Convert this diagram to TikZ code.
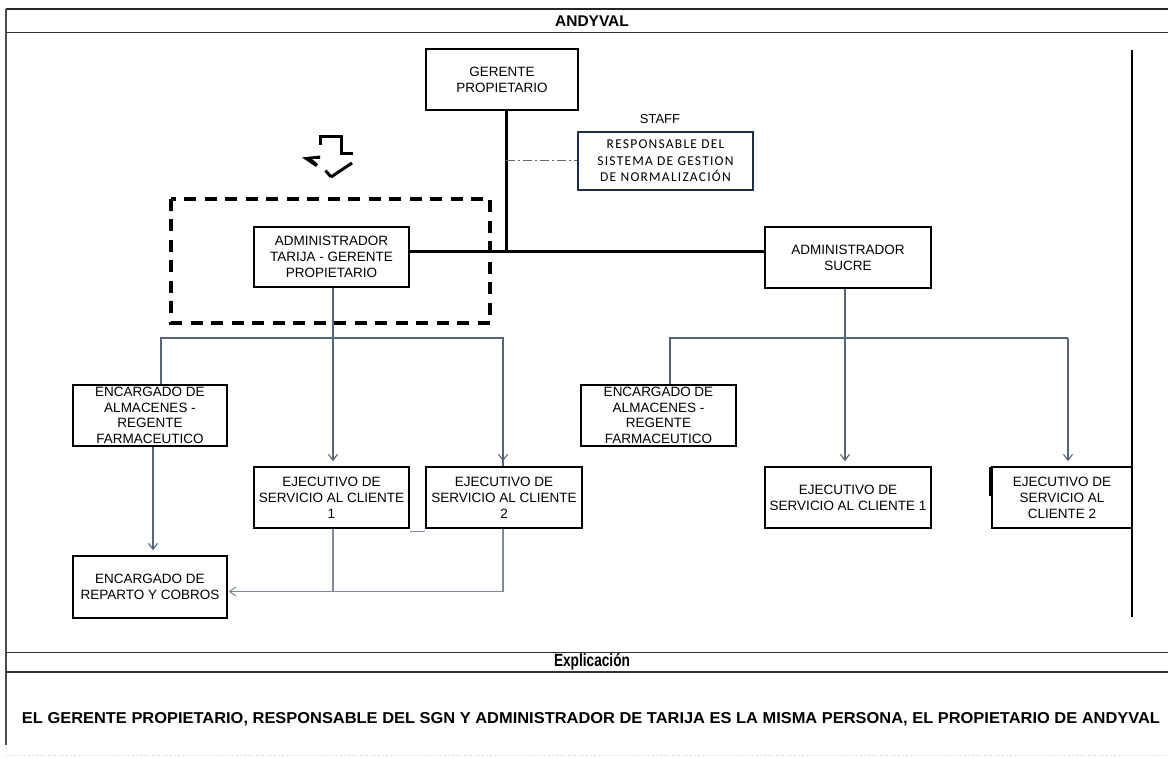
\documentclass[tikz,border=0pt]{standalone}
\usepackage{fontspec}
\setmainfont{Liberation Sans}
\newfontfamily\cali[LetterSpace=9]{Carlito}
\usetikzlibrary{arrows.meta,calc}
\definecolor{conn}{HTML}{56657A}
\definecolor{connlight}{HTML}{7F8A9C}
\definecolor{navy}{HTML}{1F2D4D}
\tikzset{
  box/.style={draw=black,line width=1.6pt,fill=white,align=center,inner sep=0pt,
    font=\fontsize{13.5}{16}\selectfont},
  thickline/.style={line width=3pt,black},
  tree/.style={line width=1.3pt,draw=conn},
  treelight/.style={line width=1.3pt,draw=connlight},
  arr/.style={-{Straight Barb[length=6pt,width=9pt,line width=1.1pt]},shorten >=5pt},
  glyph/.style={line width=3pt,black}
}
\begin{document}
\begin{tikzpicture}[x=1pt,y=-1pt]
\useasboundingbox (0,0) rectangle (1168,759);
% frame
\draw[line width=1.5pt,black!85] (6,9) -- (1168,9);
\draw[line width=1.5pt,black!80] (6,32.5) -- (1168,32.5);
\draw[line width=1.2pt,black!70] (6,9) -- (6,745);
\draw[line width=1.5pt,black!80] (6,652.5) -- (1168,652.5);
\draw[line width=1.5pt,black!80] (6,672) -- (1168,672);
\draw[line width=1.6pt,black] (1132,50) -- (1132,617);
\draw[line width=0.6pt,black!20,dotted] (6,755) -- (1168,755);
\node[font=\bfseries\fontsize{15.5}{18}\selectfont] (title) at (592,21) {ANDYVAL};
\node (expl) at (592,662) {\resizebox{76pt}{13pt}{\bfseries Explicación}};
\node (note) at (591,719.5) {\resizebox{1138pt}{11pt}{\bfseries EL GERENTE PROPIETARIO, RESPONSABLE DEL SGN Y ADMINISTRADOR DE TARIJA ES LA MISMA PERSONA, EL PROPIETARIO DE ANDYVAL}};

% dashed highlight
\draw[line width=4pt,dash pattern=on 12pt off 8.5pt] (171,199) rectangle (490,323);

% u-turn glyph
\draw[glyph] (320.5,145) -- (320.5,136.5) -- (341.5,136.5) -- (341.5,153.5) -- (353,153.5);
\draw[glyph] (352,163) -- (331,177);
\draw[glyph] (325.5,170.5) -- (331,177);
\fill[black] (302,157.5) -- (320,155.5) -- (320,159) -- (312,159) -- (318,164) -- (316,167) -- cycle;

% nodes
\node[box,minimum width=152pt,minimum height=61pt] (ger) at (502,79.5) {GERENTE\\PROPIETARIO};
\node[font=\fontsize{13}{15}\selectfont] (staff) at (660,119) {STAFF};
\node[box,draw=navy,line width=2.2pt,minimum width=175pt,minimum height=58pt,
      font=\cali\fontsize{13.5}{16.5}\selectfont] (resp) at (665.5,161) {RESPONSABLE DEL\\SISTEMA DE GESTION\\DE NORMALIZACIÓN};
\node[box,minimum width=155pt,minimum height=60pt] (tarija) at (331.5,257) {ADMINISTRADOR\\TARIJA - GERENTE\\PROPIETARIO};
\node[box,minimum width=166pt,minimum height=61pt] (sucre) at (848,257.5) {ADMINISTRADOR\\SUCRE};
\node[box,minimum width=154pt,minimum height=61pt,font=\fontsize{13.5}{15.5}\selectfont] (alm1) at (150,415.5) {ENCARGADO DE\\ALMACENES -\\REGENTE\\FARMACEUTICO};
\node[box,minimum width=155pt,minimum height=61pt,font=\fontsize{13.5}{15.5}\selectfont] (alm2) at (658.5,415.5) {ENCARGADO DE\\ALMACENES -\\REGENTE\\FARMACEUTICO};
\node[box,minimum width=155pt,minimum height=61pt] (ej1) at (331.5,497.5) {EJECUTIVO DE\\SERVICIO AL CLIENTE\\1};
\node[box,minimum width=156pt,minimum height=61pt] (ej2) at (504,497.5) {EJECUTIVO DE\\SERVICIO AL CLIENTE\\2};
\node[box,minimum width=166pt,minimum height=61pt] (ej1s) at (848,497.5) {EJECUTIVO DE\\SERVICIO AL CLIENTE 1};
\node[box,minimum width=140pt,minimum height=61pt] (ej2s) at (1062,497.5) {EJECUTIVO DE\\SERVICIO AL\\CLIENTE 2};
\node[box,minimum width=154pt,minimum height=62pt] (rep) at (150,587) {ENCARGADO DE\\REPARTO Y COBROS};
\draw[line width=3pt] ([xshift=-1pt,yshift=-1pt]ej2s.north west) -- ([xshift=-1pt,yshift=-30pt]ej2s.north west);

% upper thick connectors
\coordinate (j1) at (506,252);
\coordinate (jd) at (506,161);
\draw[thickline] (ger.south -| j1) -- (j1);
\draw[thickline] (tarija.east |- j1) -- (sucre.west |- j1);
\draw[line width=1pt,black!60,dash pattern=on 9pt off 3pt on 2pt off 3pt] (jd) -- (resp.west |- jd);

% Tarija tree
\coordinate (tb) at (333,338);
\draw[tree] (tarija.south -| tb) -- (tb);
\draw[tree] (tb) -| ([xshift=11pt]alm1.north);
\draw[tree] (tb) -| (ej2.north -| 503,0);
\draw[tree,arr] (tb) -- (ej1.north -| tb);
\draw[tree,arr] (503,338) -- (ej2.north -| 503,0);

% Sucre tree
\coordinate (sb) at (845,338);
\draw[tree] (sucre.south -| sb) -- (sb);
\draw[tree] (sb) -| ([xshift=11.5pt]alm2.north);
\draw[tree] (sb) -- (1068,338);
\draw[tree,arr] (sb) -- (ej1s.north -| sb);
\draw[tree,arr] (1068,338) -- (ej2s.north -| 1068,0);

% lower connectors
\draw[tree,arr] ([xshift=3pt]alm1.south) -- ([xshift=3pt]rep.north);
\coordinate (rj) at (333,591.5);
\draw[treelight] (ej1.south -| rj) -- (rj);
\draw[treelight] (ej2.south -| 503,0) |- (rj);
\draw[treelight,arr,shorten >=1pt] (rj) -- (rep.east |- rj);
\draw[treelight] ([yshift=-3pt]ej1.south east) -- ([yshift=-3pt]ej2.south west);
\end{tikzpicture}
\end{document}
